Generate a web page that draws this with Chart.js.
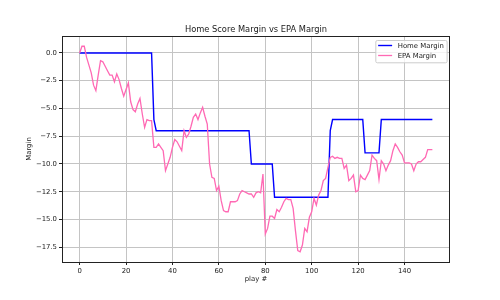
<!DOCTYPE html>
<html>
<head>
    <title>Home Score Margin vs EPA Margin</title>
    <script src="https://cdn.jsdelivr.net/npm/chart.js"></script>
    <style>
        body {
            margin: 0;
            background: #ffffff;
        }
        canvas {
            display: block;
        }
    </style>
</head>
<body>
    <canvas id="marginChart" width="500" height="300"></canvas>

    <script>
        // score margin after each play (home - away)
        const homeMargin = [
            0, 0, 0, 0, 0, 0, 0, 0, 0, 0, 0, 0, 0, 0, 0, 0,
            0, 0, 0, 0, 0, 0, 0, 0, 0, 0, 0, 0, 0, 0, 0, 0,
            -6,
            -7, -7, -7, -7, -7, -7, -7, -7, -7, -7, -7, -7, -7, -7, -7, -7, -7, -7, -7, -7, -7,
            -7, -7, -7, -7, -7, -7, -7, -7, -7, -7, -7, -7, -7, -7, -7, -7, -7, -7, -7, -7,
            -10, -10, -10, -10, -10, -10, -10, -10, -10, -10,
            -13, -13, -13, -13, -13, -13, -13, -13, -13, -13, -13, -13,
            -13, -13, -13, -13, -13, -13, -13, -13, -13, -13, -13, -13,
            -7,
            -6, -6, -6, -6, -6, -6, -6, -6, -6, -6, -6, -6, -6, -6,
            -9, -9, -9, -9, -9, -9, -9,
            -6, -6, -6, -6, -6, -6, -6, -6, -6, -6, -6, -6,
            -6, -6, -6, -6, -6, -6, -6, -6, -6, -6, -6
        ];

        // cumulative EPA margin after each play
        const epaMargin = [
            0.0, 0.6, 0.6, -0.4, -1.1, -1.8, -2.9, -3.4, -2.0, -0.7,
            -0.8, -1.2, -1.6, -2.0, -2.0, -2.6, -1.9, -2.4, -3.2, -3.9,
            -3.3, -2.7, -4.4, -5.1, -5.3, -4.6, -4.1, -5.5, -6.7, -6.0,
            -6.1, -6.1, -8.5, -8.5, -8.2, -8.5, -8.8, -10.6, -10.0, -9.4,
            -8.5, -7.8, -8.0, -8.4, -8.8, -7.0, -7.6, -7.3, -6.6, -5.8,
            -5.5, -6.0, -5.4, -4.9, -5.7, -6.4, -10.0, -11.2, -11.3, -12.4,
            -12.0, -13.3, -14.2, -14.3, -14.3, -13.4, -13.4, -13.4, -13.3, -12.7,
            -12.4, -12.5, -12.6, -12.7, -12.7, -13.0, -12.6, -12.5, -12.6, -10.9,
            -16.3, -15.8, -14.7, -14.7, -14.9, -14.1, -14.3, -13.9, -13.4, -13.1,
            -13.2, -13.2, -14.0, -16.0, -17.8, -17.9, -17.3, -15.8, -16.1, -14.8,
            -14.3, -13.1, -13.7, -12.8, -12.4, -11.5, -11.3, -10.3, -9.4, -9.3,
            -9.5, -9.4, -9.5, -9.5, -10.4, -10.1, -11.5, -11.3, -11.0, -12.5,
            -12.4, -11.0, -11.3, -11.4, -11.0, -10.6, -9.2, -9.5, -9.7, -11.4,
            -9.7, -10.0, -10.6, -10.1, -9.7, -8.8, -8.2, -8.5, -8.9, -9.2,
            -9.9, -9.9, -9.9, -10.0, -10.6, -10.0, -9.8, -9.8, -9.6, -9.4,
            -8.7, -8.7, -8.7
        ];

        const seriesNames = ["Home Margin", "EPA Margin"];
        const xTicks = [0, 20, 40, 60, 80, 100, 120, 140];
        const yTicks = [0, -2.5, -5, -7.5, -10, -12.5, -15, -17.5];

        const FONT = "DejaVu Sans";
        const TEXT = "#1a1a1a";
        const GRID = "#c4c4c4";

        // matplotlib style 5% margins around the data
        const lastPlay = epaMargin.length - 1;
        const allValues = homeMargin.concat(epaMargin);
        const dataMin = Math.min(...allValues);
        const dataMax = Math.max(...allValues);
        const yPad = (dataMax - dataMin) * 0.05;
        const xPad = lastPlay * 0.05;

        const toPoints = arr => arr.map((v, i) => ({ x: i, y: v }));

        // title, frame and legend drawn like matplotlib
        const decorations = {
            id: "decorations",
            afterDraw(chart) {
                const { ctx, chartArea } = chart;
                const { left, top, right, bottom } = chartArea;
                ctx.save();

                // frame
                ctx.strokeStyle = "#222";
                ctx.lineWidth = 1;
                ctx.strokeRect(Math.round(left) + 0.5, Math.round(top) + 0.5,
                    Math.round(right - left) - 1, Math.round(bottom - top));

                // title
                ctx.fillStyle = TEXT;
                ctx.font = "8.3px '" + FONT + "'";
                ctx.textAlign = "center";
                ctx.textBaseline = "alphabetic";
                ctx.fillText("Home Score Margin vs EPA Margin", (left + right) / 2, top - 3.8);

                // legend
                ctx.font = "6.9px '" + FONT + "'";
                const sets = chart.data.datasets;
                const textW = Math.max(...sets.map(d => ctx.measureText(d.label).width));
                const boxW = 2.8 + 14 + 5.6 + textW + 2.8;
                const boxH = 22.3;
                const boxX = right - 3.4 - boxW;
                const boxY = top + 4;
                ctx.fillStyle = "rgba(255,255,255,0.8)";
                ctx.strokeStyle = "#cccccc";
                ctx.lineWidth = 1;
                ctx.beginPath();
                if (ctx.roundRect) {
                    ctx.roundRect(boxX + 0.5, boxY + 0.5, boxW, boxH, 1.5);
                } else {
                    ctx.rect(boxX + 0.5, boxY + 0.5, boxW, boxH);
                }
                ctx.fill();
                ctx.stroke();

                ctx.textAlign = "left";
                ctx.textBaseline = "middle";
                sets.forEach((d, i) => {
                    const rowY = boxY + 5.5 + i * 10;
                    ctx.strokeStyle = d.borderColor;
                    ctx.lineWidth = d.borderWidth;
                    ctx.beginPath();
                    ctx.moveTo(boxX + 2.8, rowY);
                    ctx.lineTo(boxX + 2.8 + 14, rowY);
                    ctx.stroke();
                    ctx.fillStyle = TEXT;
                    ctx.fillText(d.label, boxX + 2.8 + 14 + 5.6, rowY + 0.3);
                });

                ctx.restore();
            }
        };

        new Chart(document.getElementById("marginChart"), {
            type: "line",
            data: {
                datasets: [
                    {
                        label: seriesNames[0],
                        data: toPoints(homeMargin),
                        borderColor: "#0000ff",
                        borderWidth: 1.4,
                        pointRadius: 0,
                        tension: 0,
                        order: 2
                    },
                    {
                        label: seriesNames[1],
                        data: toPoints(epaMargin),
                        borderColor: "#ff69b4",
                        borderWidth: 1.3,
                        pointRadius: 0,
                        tension: 0,
                        order: 1
                    }
                ]
            },
            options: {
                responsive: false,
                animation: false,
                devicePixelRatio: 1,
                layout: {
                    padding: { left: 0, top: 36, right: 50, bottom: 0 }
                },
                plugins: {
                    legend: { display: false },
                    title: { display: false },
                    tooltip: { enabled: false }
                },
                scales: {
                    x: {
                        type: "linear",
                        min: -xPad,
                        max: lastPlay + xPad,
                        afterBuildTicks: scale => {
                            scale.ticks = xTicks.map(v => ({ value: v }));
                        },
                        afterFit: scale => {
                            scale.height = 38;
                        },
                        grid: {
                            color: GRID,
                            lineWidth: 1,
                            tickColor: "#222",
                            tickLength: 3
                        },
                        border: { display: false },
                        ticks: {
                            padding: 2,
                            maxRotation: 0,
                            color: TEXT,
                            font: { family: FONT, size: 6.9 },
                            callback: v => String(v)
                        },
                        title: {
                            display: true,
                            text: "play #",
                            color: TEXT,
                            font: { family: FONT, size: 6.9 },
                            padding: { top: 0, bottom: 16.5 }
                        }
                    },
                    y: {
                        min: dataMin - yPad,
                        max: dataMax + yPad,
                        afterBuildTicks: scale => {
                            scale.ticks = yTicks.map(v => ({ value: v }));
                        },
                        afterFit: scale => {
                            scale.width = 62;
                        },
                        grid: {
                            color: GRID,
                            lineWidth: 1,
                            tickColor: "#222",
                            tickLength: 3
                        },
                        border: { display: false },
                        ticks: {
                            padding: 2,
                            color: TEXT,
                            font: { family: FONT, size: 6.9 },
                            callback: v => v.toFixed(1).replace("-", "\u2212")
                        },
                        title: {
                            display: true,
                            text: "Margin",
                            color: TEXT,
                            font: { family: FONT, size: 6.9 },
                            padding: { top: 25, bottom: 0 }
                        }
                    }
                }
            },
            plugins: [decorations]
        });
    </script>
</body>
</html>
